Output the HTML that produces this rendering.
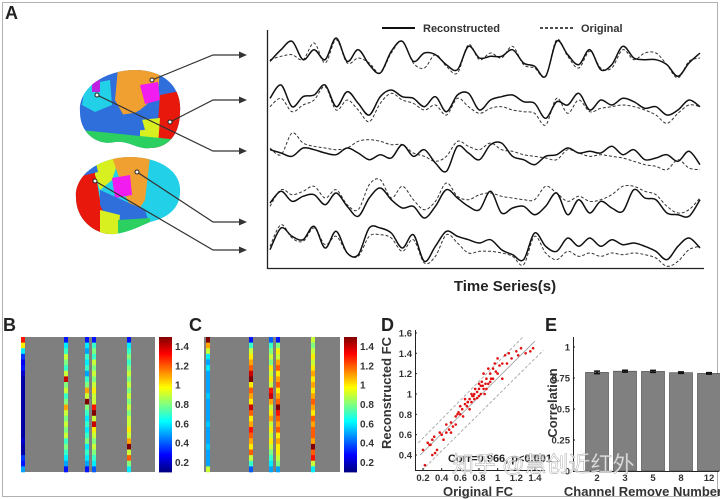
<!DOCTYPE html>
<html><head><meta charset="utf-8"><style>
html,body{margin:0;padding:0;background:#fff}
svg{display:block;font-family:"Liberation Sans",Arial,sans-serif}
</style></head><body>
<svg id="fig" width="720" height="499" viewBox="0 0 720 499" xmlns="http://www.w3.org/2000/svg">
<defs>
<clipPath id="b1c"><path d="M80,112 C78,88 105,70 135,70 C165,70 182,88 180,112 C180,132 170,148 150,148 C138,150 128,140 115,142 C98,146 80,134 80,112Z"/></clipPath>
<clipPath id="b2c"><path d="M76,198 C74,175 100,157 130,157 C160,157 182,172 180,192 C180,208 168,218 150,222 C140,226 130,232 115,234 C96,236 76,220 76,198Z"/></clipPath>
</defs>
<rect x="2.5" y="2.5" width="715" height="494" fill="none" stroke="#b0b0b0" stroke-width="1"/>
<text x="5" y="19" font-size="18" font-weight="bold" fill="#222">A</text>
<text x="3" y="331" font-size="18" font-weight="bold" fill="#222">B</text>
<text x="189" y="331" font-size="18" font-weight="bold" fill="#222">C</text>
<text x="381" y="331" font-size="18" font-weight="bold" fill="#222">D</text>
<text x="545" y="331" font-size="18" font-weight="bold" fill="#222">E</text>

<g>
<g clip-path="url(#b1c)">
<rect x="70" y="60" width="120" height="100" fill="#2e6fdc"/>
<path d="M118,68 L160,68 L158,95 L140,110 L125,118 L115,100Z" fill="#f0a030"/>
<path d="M140,85 L158,82 L160,100 L145,104Z" fill="#f01cf0"/>
<path d="M85,85 L110,80 L112,105 L95,112 L82,105Z" fill="#22d0e8"/>
<path d="M160,95 L185,90 L185,150 L150,150 L158,120Z" fill="#e8180c"/>
<path d="M140,120 L160,118 L158,145 L140,145Z" fill="#d8f020"/>
<path d="M80,130 L180,140 L180,160 L80,160Z" fill="#2cd060"/>
<path d="M100,118 L140,112 L145,130 L105,132Z" fill="#2e6fdc"/>
<path d="M92,82 L100,80 L100,92 L92,92Z" fill="#c020e0"/>
</g>
</g>
<g>
<g clip-path="url(#b2c)">
<rect x="70" y="150" width="120" height="100" fill="#22d0e8"/>
<path d="M70,175 L95,170 L100,200 L110,215 L110,240 L70,240Z" fill="#e8180c"/>
<path d="M95,158 L120,155 L112,180 L100,190 L95,175Z" fill="#d8f020"/>
<path d="M112,157 L150,157 L145,200 L135,215 L125,195Z" fill="#f0a030"/>
<path d="M112,178 L130,175 L132,195 L115,198Z" fill="#f01cf0"/>
<path d="M100,190 L145,210 L150,225 L110,225 L100,205Z" fill="#2e6fdc"/>
<path d="M100,210 L120,215 L118,235 L100,235Z" fill="#d8f020"/>
<path d="M118,220 L150,218 L150,240 L118,240Z" fill="#2cd060"/>
<path d="M80,160 L95,158 L98,172 L82,176Z" fill="#2e6fdc"/>
</g>
</g>
<g id="arrows" stroke="#333" stroke-width="1.2" fill="none"></g>

<g id="ts"></g>
<g id="hmB"></g>
<g id="hmC"></g>
<g id="scat"></g>
<g id="bars"></g>
<text x="452" y="472" font-size="22" fill="#ffffff" fill-opacity="0.75" stroke="#999" stroke-width="0.4" font-family="'Liberation Sans','Noto Sans CJK SC',sans-serif">知乎 @慧创近红外</text>
</svg>
<script>
const tsSolid1=[-10,25,50,-5,25,-5,60,-10,25,-20,-45,20,50,-10,15,10,-20,-35,35,0,5,5,25,-15,-25,-55,50,10,-20,25,-35,-20,35,0,-5,-5,-20,-55,-15,15];
const tsDash1=[-5,5,10,-5,45,-15,55,-15,0,-15,-45,15,50,-15,-30,10,-25,-45,40,-5,15,0,35,-20,-30,-55,55,5,-30,20,-30,-30,25,-5,15,15,-20,-60,-10,0];
const tsSolid2=[5,45,-20,10,15,45,-20,25,-10,-45,10,30,10,5,-20,10,-35,15,20,-30,0,10,15,-5,-10,-55,-5,-15,20,-30,0,-15,5,-5,-25,-20,-45,-30,0,-20];
const tsDash2=[-20,5,-35,-15,0,40,-30,0,-30,-65,-10,20,0,-10,-30,-15,-45,5,-20,-40,-25,-20,-30,-35,-40,-75,5,-40,0,-35,-25,-20,-15,-20,-30,-45,-70,-40,-15,-20];
const tsSolid3=[10,0,-10,15,10,0,-5,15,0,-20,-5,-15,25,-10,10,-30,-55,20,0,-20,25,30,-10,-20,-35,-10,-5,15,0,5,0,20,-5,10,-20,-15,-5,-25,5,-35];
const tsDash3=[15,-5,60,30,20,15,10,15,35,40,35,25,25,0,-10,-25,-10,35,20,10,30,10,5,-5,-10,-15,-20,10,0,-10,-5,-10,-15,-25,-35,-40,-50,-20,-45,-50];
const tsSolid4=[0,35,5,20,25,-5,30,-10,-40,15,45,10,-15,-10,-45,-10,40,15,-10,-20,35,-30,-15,-10,-35,-10,30,-35,10,-30,5,-15,-25,40,15,10,-30,-35,-40,10];
const tsDash4=[-10,40,25,35,50,15,40,-5,-20,55,70,15,50,10,-20,5,60,20,10,25,30,20,15,10,10,50,30,5,20,5,10,25,50,50,35,25,-10,-30,-20,15];
const tsSolid5=[-20,45,20,10,50,-15,35,-30,-35,45,45,30,-15,25,-55,-10,35,20,10,0,10,-20,-35,-50,30,-10,-25,15,-10,15,-10,10,-5,0,-10,-25,-50,-10,15,-15];
const tsDash5=[-10,55,15,5,45,-5,20,-30,-40,20,25,15,-25,10,-60,-40,25,0,-30,-25,-25,-30,-40,-65,20,-30,-50,-25,-40,-30,-40,-30,-35,-30,-35,-45,-70,-55,-20,-10];
const traceBaselines=[58,100,153,203,243];
const hmBcol1=[1.3,1.0,0.6,0.35,0.25,0.3,0.2,0.15,0.15,0.15,0.15,0.15,0.15,0.15,0.15,0.15,0.15,0.15,0.2,0.15,0.15,0.35,0.3,0.5];
const hmBcol2=[0.3,0.6,0.7,0.9,0.8,0.7,0.9,1.4,0.8,0.9,0.7,0.8,1.1,0.9,0.8,0.9,0.8,0.9,0.7,0.8,0.7,0.6,0.5,0.3];
const hmBcol3=[0.3,0.6,0.5,0.7,0.6,0.7,0.5,0.7,0.8,1.1,0.9,1.5,0.8,0.7,0.6,0.7,0.6,0.7,0.8,0.6,0.7,0.6,0.5,0.3];
const hmBcol4=[0.3,0.7,0.8,0.7,0.9,0.8,0.9,0.8,0.9,1.0,0.9,0.9,1.3,1.5,0.9,1.4,1.0,0.9,0.8,0.9,0.8,0.7,0.6,0.4];
const hmBcol5=[0.3,0.6,0.7,0.8,0.7,0.8,0.9,0.8,0.9,0.8,0.9,0.8,0.9,0.8,0.9,0.9,1.0,0.9,1.1,1.5,0.9,1.2,0.8,0.6];
const hmCcol1=[1.5,1.1,0.9,0.6,0.5,0.6,0.5,0.5,0.5,0.5,0.55,0.5,0.5,0.5,0.5,0.55,0.5,0.5,0.5,0.55,0.5,0.5,0.5,0.9];
const hmCcol2=[0.3,0.7,0.9,1.0,1.1,1.2,1.4,1.5,1.0,1.2,1.1,1.0,1.4,1.2,1.0,1.1,1.3,1.2,1.1,1.0,1.2,0.9,0.7,0.4];
const hmCcol3=[0.4,0.7,0.8,0.9,0.8,1.0,0.9,1.0,0.9,1.3,1.4,1.1,0.9,1.0,1.1,0.9,1.0,0.9,1.0,0.9,0.8,0.7,0.6,0.5];
const hmCcol4=[0.3,0.8,1.0,0.9,1.1,1.2,1.0,1.1,1.2,1.0,1.1,1.2,1.5,1.3,1.2,1.1,1.2,1.0,1.1,1.0,1.0,0.9,0.8,0.5];
const hmCcol5=[0.9,0.8,0.9,1.0,0.9,1.0,1.1,1.0,1.1,1.0,1.1,1.2,1.1,1.0,1.2,1.1,1.2,1.2,1.1,1.5,1.2,1.3,0.9,0.6];
const cbTicks=[0.2,0.4,0.6,0.8,1,1.2,1.4];
const origFC=[0.2,0.22,0.25,0.27,0.3,0.3,0.32,0.35,0.38,0.4,0.42,0.45,0.45,0.48,0.5,0.52,0.55,0.55,0.58,0.6,0.6,0.62,0.63,0.65,0.65,0.67,0.68,0.7,0.7,0.72,0.72,0.73,0.75,0.75,0.76,0.78,0.78,0.8,0.8,0.8,0.82,0.82,0.83,0.85,0.85,0.86,0.87,0.88,0.88,0.9,0.9,0.92,0.92,0.95,0.95,0.97,1.0,1.0,1.02,1.05,1.05,1.08,1.1,1.12,1.15,1.2,1.22,1.25,1.3,1.35,1.38,0.28,0.33,0.5,0.57,0.68,0.74,0.84,0.93,0.98];
const reconFC=[0.45,0.3,0.52,0.5,0.55,0.4,0.58,0.45,0.62,0.6,0.55,0.7,0.62,0.65,0.72,0.68,0.78,0.7,0.82,0.8,0.88,0.85,0.78,0.9,0.95,0.88,0.92,0.95,0.85,1.0,0.92,0.98,1.0,0.95,1.05,1.02,0.96,1.05,0.98,1.1,1.0,1.08,1.12,1.05,1.2,1.0,1.1,1.15,1.05,1.1,1.25,1.12,1.2,1.15,1.25,1.3,1.2,1.35,1.28,1.3,1.15,1.38,1.3,1.4,1.35,1.42,1.38,1.45,1.4,1.42,1.45,0.5,0.42,0.62,0.8,0.92,0.98,1.08,1.15,1.22];
const dXTicks=[0.2,0.4,0.6,0.8,1,1.2,1.4];
const dYTicks=[0.4,0.6,0.8,1,1.2,1.4,1.6];
const eCategories=["2","3","5","8","12"];
const eValues=[0.795,0.805,0.803,0.793,0.787];
const eErrors=[0.01,0.008,0.008,0.006,0.006];
const eYTicks=[0,0.25,0.5,0.75,1];

const NS="http://www.w3.org/2000/svg";
function mk(tag,attrs,parent){const e=document.createElementNS(NS,tag);for(const k in attrs)e.setAttribute(k,attrs[k]);parent.appendChild(e);return e;}
function smooth(pts){let d="M"+pts[0][0]+","+pts[0][1];for(let i=0;i<pts.length-1;i++){const p0=pts[i-1]||pts[i],p1=pts[i],p2=pts[i+1],p3=pts[i+2]||p2;const c1x=p1[0]+(p2[0]-p0[0])/6,c1y=p1[1]+(p2[1]-p0[1])/6,c2x=p2[0]-(p3[0]-p1[0])/6,c2y=p2[1]-(p3[1]-p1[1])/6;d+=" C"+c1x.toFixed(1)+","+c1y.toFixed(1)+" "+c2x.toFixed(1)+","+c2y.toFixed(1)+" "+p2[0]+","+p2[1].toFixed(1);}return d;}
function jet(v){const t=Math.max(0,Math.min(1,(v-0.1)/1.4));const r=Math.max(0,Math.min(1,1.5-Math.abs(4*t-3))),g=Math.max(0,Math.min(1,1.5-Math.abs(4*t-2))),b=Math.max(0,Math.min(1,1.5-Math.abs(4*t-1)));return "rgb("+Math.round(r*255)+","+Math.round(g*255)+","+Math.round(b*255)+")";}

const arrows=document.getElementById('arrows');
const arrowDefs=[[152,80,55],[170,122,100],[97,95,151],[137,172,222],[95,181,250]];
arrowDefs.forEach((a,i)=>{
  const p=mk('path',{d:"M"+a[0]+","+a[1]+" L213,"+a[2]+" L240,"+a[2]},arrows);
  
  
  const h=mk('path',{d:"M239,"+(a[2]-3.5)+" L247,"+a[2]+" L239,"+(a[2]+3.5)+"Z",fill:"#333",stroke:"none"},arrows);
  
  
  const c=mk('circle',{cx:a[0],cy:a[1],r:2,fill:"#fff",stroke:"#222","stroke-width":1},arrows);
  
  
});

const ts=document.getElementById('ts');
const tx0=270,tx1=700;
function tsX(i,n){return tx0+(tx1-tx0)*i/(n-1);}
function tsY(base,v){return base-v/3;}
mk('path',{d:"M267.5,30 L267.5,268.5 L704,268.5",stroke:"#222","stroke-width":1.3,fill:"none"},ts);
const solids=[tsSolid1,tsSolid2,tsSolid3,tsSolid4,tsSolid5],dashes=[tsDash1,tsDash2,tsDash3,tsDash4,tsDash5];
for(let k=0;k<5;k++){
  const pd=dashes[k].map((v,i,a)=>[tsX(i,a.length),tsY(traceBaselines[k],v)]);
  const e1=mk('path',{d:smooth(pd),stroke:"#333","stroke-width":1,"stroke-dasharray":"3,2",fill:"none"},ts);
  
  
  const ps=solids[k].map((v,i,a)=>[tsX(i,a.length),tsY(traceBaselines[k],v)]);
  const e2=mk('path',{d:smooth(ps),stroke:"#111","stroke-width":1.5,fill:"none"},ts);
  
  
}
let l=mk('line',{x1:382,y1:28,x2:415,y2:28,stroke:"#111","stroke-width":2},ts);

let t=mk('text',{x:423,y:32,"font-size":11,"font-weight":"bold",fill:"#333"},ts);t.textContent="Reconstructed";

l=mk('line',{x1:540,y1:28,x2:573,y2:28,stroke:"#111","stroke-width":1.5,"stroke-dasharray":"3,2"},ts);

t=mk('text',{x:581,y:32,"font-size":11,"font-weight":"bold",fill:"#333"},ts);t.textContent="Original";

t=mk('text',{x:505,y:291,"font-size":15,"font-weight":"bold",fill:"#222","text-anchor":"middle"},ts);t.textContent="Time Series(s)";


function heatmap(g,x0,x1,colX,cols,cbx,prefix){
  const y0=337,y1=472;
  const bg=mk('rect',{x:x0,y:y0,width:x1-x0,height:y1-y0,fill:"#7f7f7f"},g);
  
  cols.forEach((col,ci)=>{
    const h=(y1-y0)/col.length;
    col.forEach((v,ri)=>{
      const r=mk('rect',{x:colX[ci]-2,y:(y0+ri*h).toFixed(2),width:4,height:(h+0.3).toFixed(2),fill:jet(v)},g);
      
      
    });
  });
  for(let i=0;i<60;i++){
    const v=1.5-(i+0.5)*1.4/60;
    const r=mk('rect',{x:cbx,y:(y0+i*(y1-y0)/60).toFixed(2),width:13,height:((y1-y0)/60+0.4).toFixed(2),fill:jet(v)},g);
    
    
  }
  cbTicks.forEach(v=>{
    const y=y0+(1.5-v)/1.4*(y1-y0);
    const tt=mk('text',{x:cbx+16,y:y+3.5,"font-size":10,"font-weight":"bold",fill:"#333"},g);tt.textContent=(v===1?"1":v.toString());
    
  });
}
heatmap(document.getElementById('hmB'),21,155,[23,66,87,94,129],[hmBcol1,hmBcol2,hmBcol3,hmBcol4,hmBcol5],159,'heatmap-b');
heatmap(document.getElementById('hmC'),204,340,[208,251,271,278,313],[hmCcol1,hmCcol2,hmCcol3,hmCcol4,hmCcol5],344,'heatmap-c');

const sc=document.getElementById('scat');
function dx(v){return 423+(v-0.2)*93.3;}
function dy(v){return 455-(v-0.4)*101.7;}
mk('path',{d:"M415.5,330 L415.5,470.5 L545,470.5",stroke:"#222","stroke-width":1,fill:"none"},sc);
[[0.15,0.52,1.27,1.56,"3,2"],[0.17,0.4,1.4,1.52,""],[0.19,0.25,1.49,1.43,"3,2"]].forEach((ln,i)=>{
  const e=mk('line',{x1:dx(ln[0]),y1:dy(ln[1]),x2:dx(ln[2]),y2:dy(ln[3]),stroke:"#999","stroke-width":0.8,"stroke-dasharray":ln[4]},sc);
  
});
origFC.forEach((v,i)=>{
  const c=mk('circle',{cx:dx(v).toFixed(1),cy:dy(reconFC[i]).toFixed(1),r:1.3,fill:"#e01010"},sc);
  
});
dXTicks.forEach(v=>{
  mk('line',{x1:dx(v),y1:470,x2:dx(v),y2:468,stroke:"#222"},sc);
  const tt=mk('text',{x:dx(v),y:481,"font-size":9.5,"font-weight":"bold",fill:"#333","text-anchor":"middle"},sc);tt.textContent=v.toString();
  
});
dYTicks.forEach(v=>{
  mk('line',{x1:415,y1:dy(v),x2:417,y2:dy(v),stroke:"#222"},sc);
  const tt=mk('text',{x:412,y:dy(v)+3.5,"font-size":9.5,"font-weight":"bold",fill:"#333","text-anchor":"end"},sc);tt.textContent=v.toString();
  
});
t=mk('text',{x:448,y:462,"font-size":11,"font-weight":"bold",fill:"#222"},sc);t.textContent="Corr=0.966, p<0.001";

t=mk('text',{x:478,y:496,"font-size":13,"font-weight":"bold",fill:"#333","text-anchor":"middle"},sc);t.textContent="Original FC";

t=mk('text',{x:0,y:0,"font-size":13,"font-weight":"bold",fill:"#333","text-anchor":"middle",transform:"translate(391,393) rotate(-90)"},sc);t.textContent="Reconstructed FC";


const bg=document.getElementById('bars');
function ey(v){return 471-v*124;}
const bx0=583,bstep=28;
mk('path',{d:"M573.5,337 L573.5,471.5 L719,471.5",stroke:"#222","stroke-width":1,fill:"none"},bg);
eValues.forEach((v,i)=>{
  const cx=bx0+bstep*(i+0.5);
  const r=mk('rect',{x:cx-11.5,y:ey(v),width:23,height:471-ey(v),fill:"#808080",stroke:"#444","stroke-width":0.6},bg);
  
  const e=mk('path',{d:"M"+(cx-3)+","+ey(v+eErrors[i])+" H"+(cx+3)+" M"+cx+","+ey(v+eErrors[i])+" V"+ey(v-eErrors[i])+" M"+(cx-3)+","+ey(v-eErrors[i])+" H"+(cx+3),stroke:"#111","stroke-width":1.5,fill:"none"},bg);
  
  const tt=mk('text',{x:cx,y:481,"font-size":9.5,"font-weight":"bold",fill:"#333","text-anchor":"middle"},bg);tt.textContent=eCategories[i];
  
});
eYTicks.forEach(v=>{
  mk('line',{x1:573,y1:ey(v),x2:575,y2:ey(v),stroke:"#222"},bg);
  const tt=mk('text',{x:570,y:ey(v)+3.5,"font-size":9.5,"font-weight":"bold",fill:"#333","text-anchor":"end"},bg);tt.textContent=v.toString();
  
});
t=mk('text',{x:643,y:496,"font-size":13,"font-weight":"bold",fill:"#333","text-anchor":"middle"},bg);t.textContent="Channel Remove Number";

t=mk('text',{x:0,y:0,"font-size":13,"font-weight":"bold",fill:"#333","text-anchor":"middle",transform:"translate(557,403) rotate(-90)"},bg);t.textContent="Correlation";

</script>
</body></html>
